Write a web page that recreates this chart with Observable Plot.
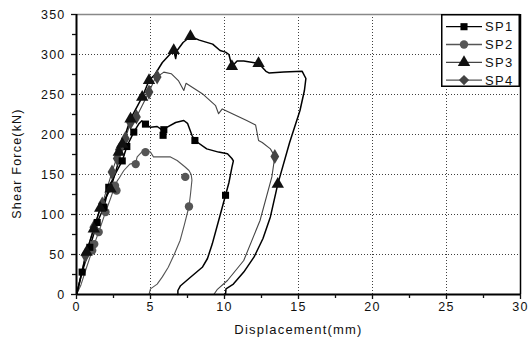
<!DOCTYPE html>
<html>
<head>
<meta charset="utf-8">
<script src="https://cdn.jsdelivr.net/npm/d3@7"></script>
<script src="https://cdn.jsdelivr.net/npm/@observablehq/plot@0.6"></script>
<style>
  html, body { margin: 0; padding: 0; background: #fff; }
  #wrap { position: relative; width: 528px; height: 338px; }
  #wrap svg text { letter-spacing: 1.2px; }
  #legend { position: absolute; left: 441px; top: 14px; }
</style>
</head>
<body>
<div id="wrap"></div>
<script>
// ---- data ----
const xTicks = [0, 5, 10, 15, 20, 25, 30];
const xMinor = [2.5, 7.5, 12.5, 17.5, 22.5, 27.5];
const yTicks = [0, 50, 100, 150, 200, 250, 300, 350];
const yMinor = [25, 75, 125, 175, 225, 275, 325];
const xGrid = [5, 10, 15, 20, 25];
const yGrid = [50, 100, 150, 200, 250, 300];

const seriesNames = ["SP1", "SP2", "SP3", "SP4"];

const sp1X = [0, 0.38, 0.9, 1.4, 1.85, 2.18, 2.6, 3.09, 3.4, 3.87, 4.2, 4.4, 4.66, 5.0, 5.45, 5.75, 5.85, 6.1, 6.7, 7.25, 7.5, 7.8, 8.0, 8.8, 9.6, 10.2, 10.5, 10.6, 10.5, 10.3, 10.07, 9.73, 9.17, 8.85, 8.5, 7.7, 7.03, 6.85, 6.85];
const sp1Y = [0, 28, 59, 90, 109, 134, 150, 167, 185, 203, 213, 217, 213, 209, 210, 206, 199, 209, 215, 217.5, 214, 199, 192.5, 182, 178, 176, 170, 167, 159, 140, 124, 101, 63, 45, 34, 21.6, 11, 5, 0];
const sp1MX = [0.38, 0.9, 1.4, 1.85, 2.18, 3.09, 3.4, 3.87, 4.66, 5.9, 5.85, 8.0, 10.07];
const sp1MY = [28, 59, 90, 109, 134, 167, 185, 203, 213, 206, 199, 192.5, 124];

const sp2X = [0, 0.3, 0.7, 1.06, 1.2, 1.5, 1.96, 2.3, 2.6, 2.75, 2.9, 3.0, 3.2, 3.6, 4.0, 4.1, 4.4, 4.66, 5.0, 5.2, 6.35, 6.8, 7.3, 7.6, 7.75, 7.8, 7.7, 7.6, 7.3, 7.0, 6.6, 6.2, 5.8, 5.45, 5.0, 4.9];
const sp2Y = [0, 12, 35, 55, 63, 78, 103, 120, 136, 142, 146, 149, 155, 163, 165, 172, 178, 180, 178, 172, 172, 167.5, 160, 155, 150, 143, 125, 110, 88, 67.5, 50, 34, 22, 13, 7, 0];
const sp2MX = [1.06, 1.2, 1.5, 1.96, 2.6, 2.7, 4.0, 4.66, 7.35, 7.6];
const sp2MY = [55, 63, 78, 103, 136, 130, 163, 178, 147, 110];

const sp3X = [0, 0.05, 0.68, 1.17, 1.6, 2.3, 2.86, 3.09, 3.65, 4.44, 4.9, 5.3, 5.8, 6.3, 6.57, 6.7, 6.8, 7.2, 7.7, 8.3, 9.2, 9.7, 10.07, 10.3, 10.5, 10.85, 11.3, 12.3, 12.8, 13.0, 14.0, 15.25, 15.5, 15.4, 15.1, 14.4, 13.6, 13.1, 12.6, 12.0, 11.3, 10.6, 10.1, 10.07];
const sp3Y = [0, 3, 53, 82, 108, 132, 167, 188, 219.6, 246.6, 267.5, 275, 290, 300, 305, 295, 305, 315, 322.5, 318, 313, 305, 303, 300, 285, 292, 292, 289, 279, 277, 278, 279, 270, 255, 230, 190, 138, 97, 70, 47, 28, 13, 7, 0];
const sp3MX = [0.68, 1.17, 1.6, 2.3, 2.86, 3.09, 3.65, 4.44, 4.9, 6.57, 7.7, 10.5, 12.3, 13.6];
const sp3MY = [53, 82, 108, 132, 178, 188, 219.6, 246.6, 267.5, 305, 322.5, 285, 289, 138];

const sp4X = [0, 0.6, 1.17, 1.74, 2.4, 2.9, 3.3, 3.65, 4.05, 4.9, 5.3, 5.45, 5.9, 6.4, 6.9, 7.25, 7.4, 8.5, 9.4, 9.6, 9.85, 11.5, 12.1, 12.3, 12.55, 13.1, 13.4, 13.2, 12.4, 11.3, 10.2, 9.5, 9.28];
const sp4Y = [0, 49, 84, 113, 153, 181, 195, 215, 222, 253, 270, 272, 278, 276, 267, 255, 264, 251, 236, 226, 232, 217.5, 212, 192.5, 190, 182, 172.5, 147, 92.5, 42.5, 17.5, 6, 0];
const sp4MX = [0.6, 1.17, 1.74, 2.4, 2.75, 2.9, 3.3, 3.65, 4.05, 4.9, 5.45, 13.4];
const sp4MY = [49, 84, 113, 153, 170, 181, 195, 215, 222, 253, 272, 172.5];

// ---- styling per series ----
const lineColor = {SP1: "#000", SP2: "#555", SP3: "#000", SP4: "#444"};
const lineWidth = {SP1: 1.5, SP2: 1.1, SP3: 1.5, SP4: 1.1};
const markColor = {SP1: "#000", SP2: "#555", SP3: "#111", SP4: "#444"};
const symbolOf = {SP1: "square", SP2: "circle", SP3: "triangle", SP4: "diamond"};
const markR = {SP1: 4, SP2: 4.2, SP3: 4.6, SP4: 4.6};
const legendLine = {SP1: "#000", SP2: "#555", SP3: "#444", SP4: "#555"};

const raw = {
  SP1: [sp1X, sp1Y, sp1MX, sp1MY],
  SP2: [sp2X, sp2Y, sp2MX, sp2MY],
  SP3: [sp3X, sp3Y, sp3MX, sp3MY],
  SP4: [sp4X, sp4Y, sp4MX, sp4MY]
};
const lines = {}, marks = {};
for (const s of seriesNames) {
  const [lx, ly, mx, my] = raw[s];
  lines[s] = lx.map((x, i) => ({x, y: ly[i]}));
  marks[s] = mx.map((x, i) => ({x, y: my[i]}));
}

const seriesMarks = [];
for (const s of ["SP2", "SP4", "SP1", "SP3"]) {
  seriesMarks.push(Plot.line(lines[s], {x: "x", y: "y", stroke: lineColor[s], strokeWidth: lineWidth[s]}));
}
for (const s of ["SP2", "SP4", "SP1", "SP3"]) {
  seriesMarks.push(Plot.dot(marks[s], {x: "x", y: "y", symbol: () => symbolOf[s], r: markR[s], fill: markColor[s], stroke: "none"}));
}

const chart = Plot.plot({
  width: 528,
  height: 338,
  marginLeft: 76,
  marginRight: 8,
  marginTop: 14,
  marginBottom: 44,
  x: {domain: [0, 30]},
  y: {domain: [0, 350]},
  symbol: {type: "identity"},
  style: {fontFamily: "'Liberation Sans', Arial, sans-serif", fontSize: "12.5px", color: "#111", background: "#fff"},
  marks: [
    Plot.gridX(xGrid, {stroke: "#000", strokeOpacity: 0.75, strokeDasharray: "1,2", strokeWidth: 1}),
    Plot.gridY(yGrid, {stroke: "#000", strokeOpacity: 0.75, strokeDasharray: "1,2", strokeWidth: 1}),
    ...seriesMarks,
    Plot.ruleY([350], {stroke: "#888", strokeWidth: 1.5}),
    Plot.ruleX([30], {stroke: "#000", strokeWidth: 1.5}),
    Plot.ruleX([0], {stroke: "#000", strokeWidth: 2}),
    Plot.ruleY([0], {stroke: "#000", strokeWidth: 2}),
    Plot.axisX(xTicks, {tickSize: 5, tickPadding: 3, strokeWidth: 1.3, label: "Displacement(mm)", labelAnchor: "center", labelArrow: "none", labelOffset: 39}),
    Plot.axisX(xMinor, {tickSize: 4, strokeWidth: 1.3, text: null, label: null}),
    Plot.axisY(yTicks, {tickSize: 5, tickPadding: 6, strokeWidth: 1.3, label: "Shear Force(kN)", labelAnchor: "center", labelArrow: "none", labelOffset: 64}),
    Plot.axisY(yMinor, {tickSize: 4, strokeWidth: 1.3, text: null, label: null})
  ]
});

const wrap = document.getElementById("wrap");
wrap.appendChild(chart);

// nudge y-axis label downward a bit, as in the reference
const yl = chart.querySelector('[aria-label="y-axis label"]');
if (yl) yl.setAttribute("transform", (yl.getAttribute("transform") || "") + " translate(0,9)");
const xl = chart.querySelector('[aria-label="x-axis label"]');
if (xl) xl.setAttribute("font-size", "13px");

// ---- legend ----
const lg = d3.select(wrap).append("svg")
  .attr("id", "legend")
  .attr("width", 79).attr("height", 73)
  .style("font-family", "'Liberation Sans', Arial, sans-serif")
  .style("font-size", "13px");
lg.append("rect").attr("x", 0.75).attr("y", 0.75).attr("width", 77.5).attr("height", 71.5)
  .attr("fill", "#fff").attr("stroke", "#000").attr("stroke-width", 1.5);
const symD3 = {SP1: d3.symbolSquare, SP2: d3.symbolCircle, SP3: d3.symbolTriangle, SP4: d3.symbolDiamond2};
seriesNames.forEach((s, i) => {
  const cy = 12.7 + i * 17.8;
  lg.append("line").attr("x1", 5).attr("x2", 41).attr("y1", cy).attr("y2", cy)
    .attr("stroke", legendLine[s]).attr("stroke-width", 1.3);
  lg.append("path").attr("d", d3.symbol(symD3[s], Math.PI * markR[s] * markR[s])())
    .attr("transform", `translate(23,${cy})`).attr("fill", markColor[s]);
  lg.append("text").attr("x", 44).attr("y", cy).attr("dy", "0.35em")
    .style("letter-spacing", "1.3px").attr("fill", "#111").text(s);
});
</script>
</body>
</html>
